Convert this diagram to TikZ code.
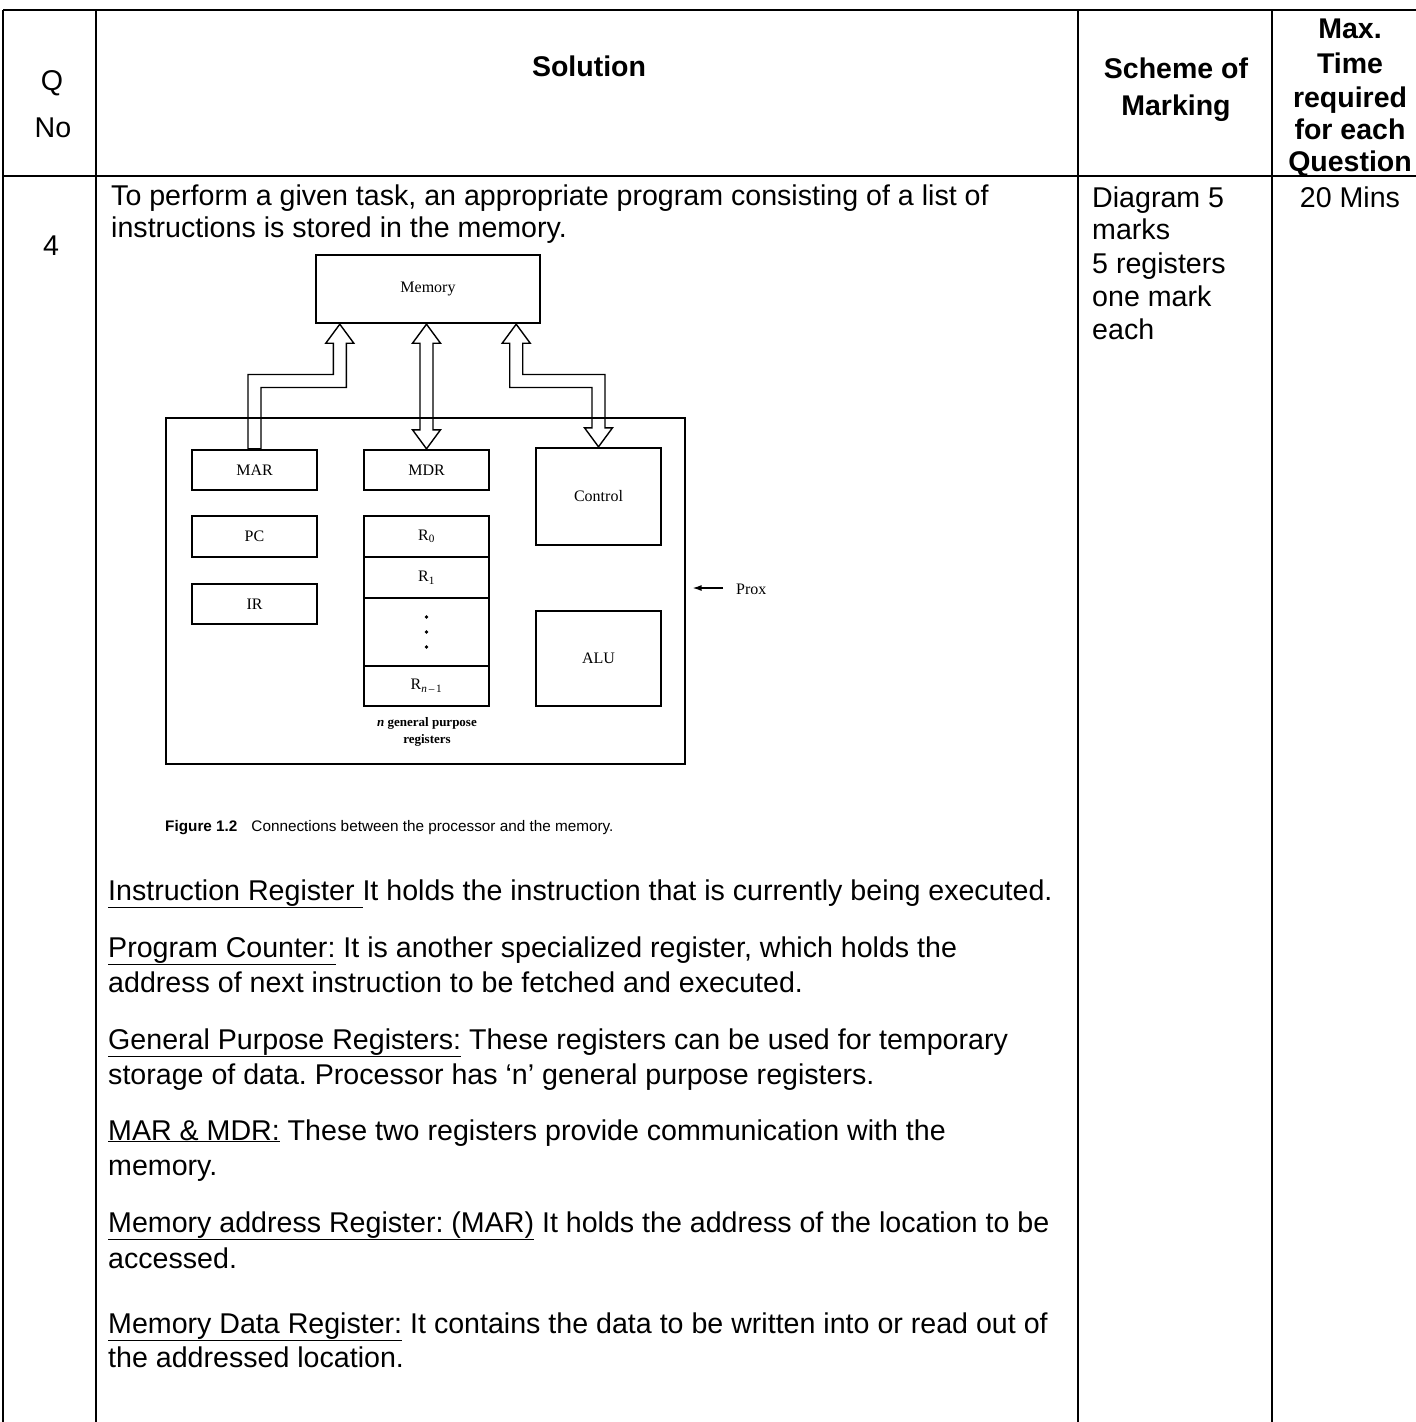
\documentclass[tikz,border=0pt]{standalone}
\usepackage{fontspec}
\setmainfont{Liberation Sans}
\newfontfamily\figfont[Ligatures=TeX]{Liberation Serif}
\usetikzlibrary{calc,arrows.meta}
\pgfdeclarelayer{bg}
\pgfsetlayers{bg,main}
\frenchspacing

\begin{document}
\begin{tikzpicture}[x=1pt,y=-1pt,
  body/.style={anchor=base west,inner sep=0pt,font=\fontsize{28.6}{34}\selectfont},
  bodyc/.style={anchor=base,inner sep=0pt,font=\fontsize{28.6}{34}\selectfont},
  head/.style={anchor=base,inner sep=0pt,font=\fontsize{28.5}{33}\selectfont\bfseries},
  rule/.style={line width=1.3pt},
  heavyrule/.style={line width=2pt},
  reg/.style={draw,line width=2.4pt,inner sep=0pt,font=\figfont\fontsize{16}{18}\selectfont},
  bus/.style={draw,line width=1.4pt,fill=white,line join=miter},
  figlabel/.style={inner sep=0pt,anchor=base,font=\figfont\bfseries\fontsize{13}{15}\selectfont},
]
\useasboundingbox (0,0) rectangle (1416,1422);

% ---------------- table rules ----------------
\draw[heavyrule] (3,10) -- (1416,10);
\draw[heavyrule] (3,176) -- (1416,176);
\foreach \cx in {3,96,1078,1272}
  \draw[rule] (\cx,10) -- (\cx,1422);

% ---------------- header ----------------
\node[bodyc] (hq) at (52,90) {Q};
\node[bodyc] (hno) at (53,137) {No};
\node[head] (hsol) at (589,76) {Solution};
\node[head] (hsch1) at (1176,78) {Scheme of};
\node[head] (hsch2) at (1176,115) {Marking};
\node[head] (hmax1) at (1350,38) {Max.};
\node[head] (hmax2) at (1350,73) {Time};
\node[head] (hmax3) at (1350,107) {required};
\node[head] (hmax4) at (1350,139) {for each};
\node[head] (hmax5) at (1350,171) {Question};

% ---------------- row 4 ----------------
\node[bodyc] (qno) at (51,255) {4};
\node[body] (p1a) at (111,205) {To perform a given task, an appropriate program consisting of a list of};
\node[body] (p1b) at (111,237) {instructions is stored in the memory.};

\node[body] (s1) at (1092,207) {Diagram 5};
\node[body] (s2) at (1092,239) {marks};
\node[body] (s3) at (1092,273) {5 registers};
\node[body] (s4) at (1092,306) {one mark};
\node[body] (s5) at (1092,339) {each};
\node[bodyc] (tm) at (1350,207) {20 Mins};

% ---------------- processor / memory figure ----------------
\node[reg,minimum width=224,minimum height=68] (mem) at (428,289) {Memory};
\node[draw,line width=1.2pt,minimum width=519,minimum height=346,inner sep=0pt] (proc) at (425.5,591) {};

\node[reg,minimum width=125,minimum height=40] (mar) at (254.5,470) {MAR};
\node[reg,minimum width=125,minimum height=41] (pc)  at (254.5,536.5) {PC};
\node[reg,minimum width=125,minimum height=40] (ir)  at (254.5,604) {IR};

\node[reg,minimum width=125,minimum height=40] (mdr) at (426.5,470) {MDR};
\node[reg,minimum width=125,minimum height=41] (r0) at (426.5,536.5) {R\textsubscript{0}};
\node[reg,minimum width=125,minimum height=41] (r1) at (426.5,577.5) {R\textsubscript{1}};
\node[reg,minimum width=125,minimum height=68] (rdots) at (426.5,632) {};
\node[reg,minimum width=125,minimum height=40] (rn) at (426.5,686) {R\textsubscript{\textit{n}\,\textendash\,1}};
\foreach \d in {-15,0,15}
  \fill ($(rdots.center)+(0,\d)$) circle (1.9pt);

\node[reg,minimum width=125,minimum height=97] (ctl) at (598.5,496.5) {Control};
\node[reg,minimum width=125,minimum height=95] (alu) at (598.5,658.5) {ALU};

\node[figlabel] (gp1) at (427,726) {\textit{n} general purpose};
\node[figlabel] (gp2) at (427,743) {registers};

% pointer to the processor outline
\node[inner sep=0pt,anchor=base west,font=\figfont\fontsize{16}{18}\selectfont] (prox) at (736,594) {Prox};
\coordinate (proxtail) at (723,588);
\draw[line width=1.3pt,-{Latex[length=9pt,width=6pt]},shorten >=7pt] (proxtail) -- (proxtail -| proc.east);

% bus attachment points on the memory
\coordinate (tipL) at ($(mem.south west)+(25,0)$);
\coordinate (tipM) at (mem.south -| mdr.north);
\coordinate (tipR) at ($(mem.south east)+(-25,0)$);
\coordinate (band) at (0,381);
\def\bw{6.5pt}\def\hw{14pt}\def\hl{19pt}

\begin{pgfonlayer}{bg}
  % address bus: MAR -> memory
  \draw[bus] let \p1=(tipL),\p2=(mar.north),\p3=(band) in
    (\x1,\y1) -- (\x1+\hw,\y1-\hl) -- (\x1+\bw,\y1-\hl) -- (\x1+\bw,\y3-\bw)
    -- (\x2+\bw,\y3-\bw) -- (\x2+\bw,\y2) -- (\x2-\bw,\y2) -- (\x2-\bw,\y3+\bw)
    -- (\x1-\bw,\y3+\bw) -- (\x1-\bw,\y1-\hl) -- (\x1-\hw,\y1-\hl) -- cycle;
  % data bus: memory <-> MDR
  \draw[bus] let \p1=(tipM),\p2=(mdr.north) in
    (\x1,\y1) -- (\x1+\hw,\y1-\hl) -- (\x1+\bw,\y1-\hl) -- (\x1+\bw,\y2+\hl)
    -- (\x1+\hw,\y2+\hl) -- (\x2,\y2) -- (\x1-\hw,\y2+\hl) -- (\x1-\bw,\y2+\hl)
    -- (\x1-\bw,\y1-\hl) -- (\x1-\hw,\y1-\hl) -- cycle;
  % control lines: memory <-> control
  \draw[bus] let \p1=(tipR),\p2=(ctl.north),\p3=(band) in
    (\x1,\y1) -- (\x1+\hw,\y1-\hl) -- (\x1+\bw,\y1-\hl) -- (\x1+\bw,\y3+\bw)
    -- (\x2+\bw,\y3+\bw) -- (\x2+\bw,\y2+\hl) -- (\x2+\hw,\y2+\hl) -- (\x2,\y2)
    -- (\x2-\hw,\y2+\hl) -- (\x2-\bw,\y2+\hl) -- (\x2-\bw,\y3-\bw)
    -- (\x1-\bw,\y3-\bw) -- (\x1-\bw,\y1-\hl) -- (\x1-\hw,\y1-\hl) -- cycle;
\end{pgfonlayer}

\node[inner sep=0pt,anchor=base west,font=\fontsize{15.3}{17}\selectfont] (cap) at (165,831)
  {\textbf{Figure 1.2}\hspace{14pt}Connections between the processor and the memory.};

% ---------------- register descriptions ----------------
\node[body] (d1) at (108,900) {\underline{Instruction Register\ }It holds the instruction that is currently being executed.};
\node[body] (d2a) at (108,957) {\underline{Program Counter:} It is another specialized register, which holds the};
\node[body] (d2b) at (108,992) {address of next instruction to be fetched and executed.};
\node[body] (d3a) at (108,1049) {\underline{General Purpose Registers:} These registers can be used for temporary};
\node[body] (d3b) at (108,1084) {storage of data. Processor has ‘n’ general purpose registers.};
\node[body] (d4a) at (108,1140) {\underline{MAR \& MDR:} These two registers provide communication with the};
\node[body] (d4b) at (108,1175) {memory.};
\node[body] (d5a) at (108,1232) {\underline{Memory address Register: (MAR)} It holds the address of the location to be};
\node[body] (d5b) at (108,1268) {accessed.};
\node[body] (d6a) at (108,1333) {\underline{Memory Data Register:} It contains the data to be written into or read out of};
\node[body] (d6b) at (108,1367) {the addressed location.};
\end{tikzpicture}
\end{document}
